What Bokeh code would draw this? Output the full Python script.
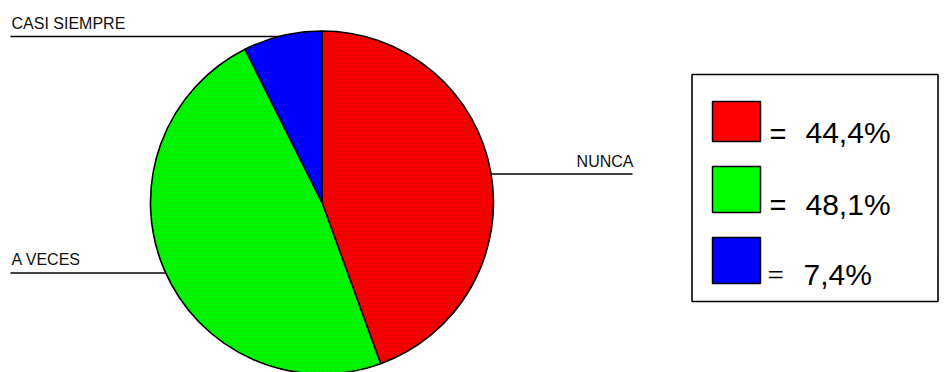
import numpy as np
from bokeh.plotting import figure
from bokeh.models import Range1d, ColumnDataSource
from bokeh.core.properties import value
from bokeh.embed import file_html
from bokeh.resources import INLINE

# ---- data ----
categories = ["NUNCA", "A VECES", "CASI SIEMPRE"]
percents = [44.4, 48.1, 7.4]
colors = ["#ff0000", "#00ff00", "#0000ff"]
hatch_colors = ["#c80000", "#00c800", "#0000ff"]
legend_labels = [f"{v:.1f}".replace(".", ",") + "%" for v in percents]

W, H = 945, 372
p = figure(width=W, height=H, output_backend="svg", toolbar_location=None,
           x_range=Range1d(0, W), y_range=Range1d(0, H),
           min_border=0, outline_line_color=None)
p.axis.visible = False
p.grid.visible = False
p.background_fill_color = "white"
p.border_fill_color = "white"

def Y(sy):
    return H - sy

FONT = value("Liberation Sans")

# label leader lines (drawn under the pie)
p.line([10, 321], [Y(36), Y(36)], line_color="black", line_width=1.3)
p.line([10, 200], [Y(272.5), Y(272.5)], line_color="black", line_width=1.3)
p.line([440, 632], [Y(173.5), Y(173.5)], line_color="black", line_width=1.3)

# pie
cx, cy, r = 321.5, Y(202), 171.5
fr = np.array(percents) / sum(percents)
cum = np.concatenate([[0], np.cumsum(fr)])
start = np.pi / 2 - 2 * np.pi * cum[:-1]
end = np.pi / 2 - 2 * np.pi * cum[1:]
src = ColumnDataSource(dict(start=start, end=end, color=colors, hc=hatch_colors))
p.wedge(x=cx, y=cy, radius=r, start_angle="start", end_angle="end",
        direction="clock", fill_color="color", line_color="black", line_width=1.6,
        hatch_pattern="/", hatch_color="hc", hatch_alpha=0.45, hatch_scale=4,
        hatch_weight=1, source=src)

# category labels
p.text(x=[11], y=[Y(23)], text=[categories[2]], text_font=FONT, text_font_size="16px",
       text_align="left", text_baseline="alphabetic", text_color="#111111")
p.text(x=[11], y=[Y(259)], text=[categories[1]], text_font=FONT, text_font_size="16px",
       text_align="left", text_baseline="alphabetic", text_color="#111111")
p.text(x=[633], y=[Y(161)], text=[categories[0]], text_font=FONT, text_font_size="16px",
       text_align="right", text_baseline="alphabetic", text_color="#111111")

# legend box
p.quad(left=[691.5], right=[937.5], top=[Y(74)], bottom=[Y(301)],
       fill_color="white", line_color="black", line_width=1.6)

sq_top = [101, 166, 237]
sq_bot = [141, 212, 283]
base = [132, 203.5, 273.5]
p.quad(left=[712] * 3, right=[760] * 3, top=[Y(t) for t in sq_top],
       bottom=[Y(b) for b in sq_bot], fill_color=colors, line_color="black", line_width=1.5)

p.text(x=[769, 769], y=[Y(base[0] + 1), Y(base[1] + 1)], text=["=", "="], text_font=FONT,
       text_font_size="29px", text_align="left", text_baseline="alphabetic", text_color="black")
p.text(x=[767], y=[Y(base[2] + 1)], text=["="], text_font=value("Liberation Serif"),
       text_font_size="29px", text_align="left", text_baseline="alphabetic", text_color="black")
p.text(x=[805, 805, 803], y=[Y(b) for b in base], text=legend_labels, text_font=FONT,
       text_font_size="30px", text_align="left", text_baseline="alphabetic", text_color="black")

open("out.html", "w").write(file_html(p, INLINE))
